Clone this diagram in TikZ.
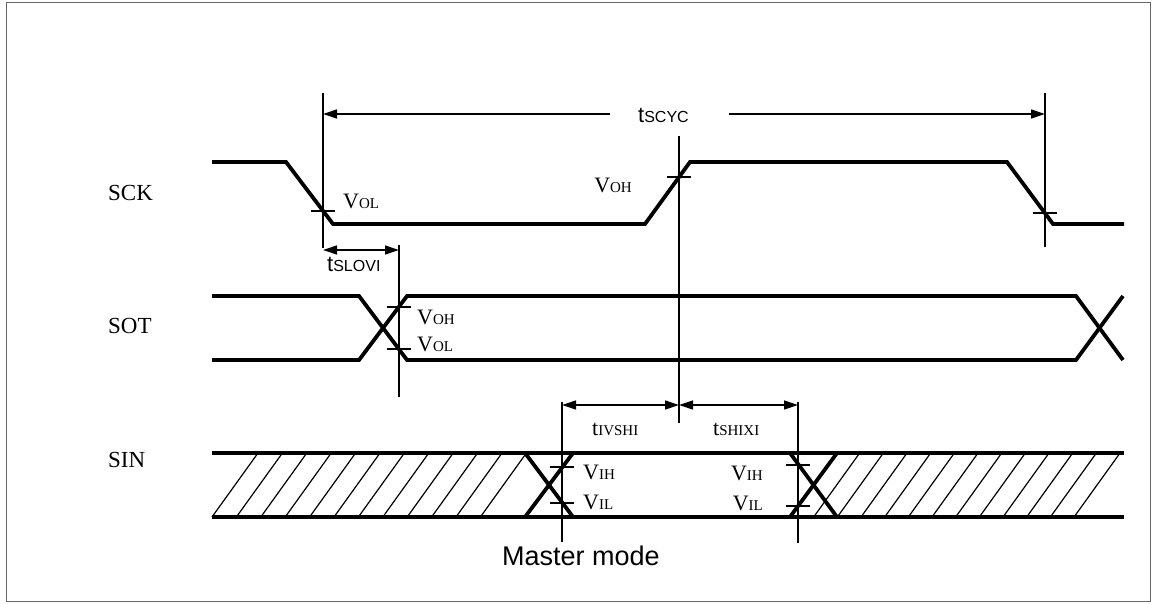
\documentclass[tikz,border=0pt]{standalone}
\usepackage{fontspec}
\setmainfont{Liberation Serif}
\newfontfamily\arialfont{Liberation Sans}
\usetikzlibrary{arrows.meta}

\newcommand{\withsub}[2]{#1{\fontsize{15}{15}\selectfont #2}}
\newcommand{\tsub}[1]{t{\fontsize{16}{16}\selectfont #1}}

\tikzstyle{wave}=[draw, line width=3.8pt, line join=miter]
\tikzstyle{marker}=[draw, line width=1.3pt]
\tikzstyle{tick}=[draw, line width=1.3pt]
\tikzstyle{dimline}=[draw, line width=1.3pt, {Triangle[length=14pt,width=9pt]}-{Triangle[length=14pt,width=9pt]}]
\tikzstyle{halfdim}=[draw, line width=1.3pt, -{Triangle[length=14pt,width=9pt]}]
\tikzstyle{hatch}=[draw, line width=1.2pt]
\tikzstyle{signame}=[font=\fontsize{23}{23}\selectfont, inner sep=0pt, anchor=base west]
\tikzstyle{vlabel}=[font=\fontsize{22}{22}\selectfont, inner sep=0pt, anchor=base west]
\tikzstyle{vlabel right}=[vlabel, anchor=base east]
\tikzstyle{tlabel}=[font=\arialfont\fontsize{22}{22}\selectfont, inner sep=0pt, anchor=base west]

\begin{document}
\begin{tikzpicture}[x=1pt, y=-1pt]
    \useasboundingbox (0,0) rectangle (1154,604);
    % Frame
    \draw[black!60, line width=1pt] (6,3) rectangle (1150,601);
    % Signal names
    \foreach \pos/\name/\txt in {{(108,201)/SCK/SCK},{(108,333)/SOT/SOT},{(108,467)/SIN/SIN}}
    \node[signame] (\name) at \pos {\txt};
    % Waveforms
    \path[wave] (212,162) -- (286,162) -- (333,224) -- (645,224) -- (690,162)
        -- (1007,162) -- (1053,224) -- (1124,224);
    \path[wave] (212,296) -- (359,296) -- (407,360) -- (1076,360) -- (1123,296);
    \path[wave] (212,360) -- (359,360) -- (407,296) -- (1076,296) -- (1123,360);
    \path[wave] (212,453) -- (1124,453);
    \path[wave] (212,517) -- (1124,517);
    \path[wave] (525,453) -- (573,517);
    \path[wave] (525,517) -- (573,453);
    \path[wave] (790,453) -- (837,517);
    \path[wave] (790,517) -- (837,453);
    % Hatched (don't care) regions of SIN
    \foreach \k in {0,...,11}
    \path[hatch] (212+24.4*\k,517) -- ++(46,-64);
    \foreach \k in {1,...,12}
    \path[hatch] (790+23.67*\k,517) -- ++(46,-64);
    % Reference lines
    \foreach \name/\x/\ya/\yb in {m1/323/93/248, m2/679/136/423, m3/1045/93/247,
        m4/399/245/397, m5/562/402/542, m6/798/402/543}
    {
        \coordinate (\name top) at (\x,\ya);
        \coordinate (\name bot) at (\x,\yb);
        \path[marker] (\name top) -- (\name bot);
    }
    % Threshold ticks
    \foreach \x/\y in {323/211, 679/177, 1045/213, 399/307, 399/349,
        562/467, 562/503, 798/465, 798/506}
    \path[tick] (\x,\y) ++(-12,0) -- ++(24,0);
    % Threshold labels
    \foreach \pos/\name/\txt in {{(343,209)/sckVOL/{\withsub{V}{OL}}},
        {(417,324)/sotVOH/{\withsub{V}{OH}}},{(417,351)/sotVOL/{\withsub{V}{OL}}},
        {(583,479)/sinVIHa/{\withsub{V}{IH}}},{(583,509)/sinVILa/{\withsub{V}{IL}}}}
    \node[vlabel] (\name) at \pos {\txt};
    \foreach \pos/\name/\txt in {{(632,193)/sckVOH/{\withsub{V}{OH}}},
        {(763,480)/sinVIHb/{\withsub{V}{IH}}},{(763,510)/sinVILb/{\withsub{V}{IL}}}}
    \node[vlabel right] (\name) at \pos {\txt};
    % Timing labels
    \node[tlabel] (tSCYC) at (638,123) {\tsub{SCYC}};
    \node[tlabel] (tSLOVI) at (327,272) {\tsub{SLOVI}};
    \node[vlabel] (tIVSHI) at (592,435) {\withsub{t}{IVSHI}};
    \node[vlabel] (tSHIXI) at (713,435) {\withsub{t}{SHIXI}};
    \node[tlabel, font=\arialfont\fontsize{27}{27}\selectfont] (mode) at (502,565) {Master mode};
    % Timing arrows
    \coordinate (cycL) at (610,114);
    \coordinate (cycR) at (729,114);
    \coordinate (sloY) at (0,250);
    \coordinate (shiY) at (0,405);
    \path[halfdim] (cycL) -- (m1top |- cycL);
    \path[halfdim] (cycR) -- (m3top |- cycR);
    \path[dimline] (m1top |- sloY) -- (m4top |- sloY);
    \path[dimline] (m5top |- shiY) -- (m2top |- shiY);
    \path[dimline] (m2top |- shiY) -- (m6top |- shiY);
\end{tikzpicture}
\end{document}
